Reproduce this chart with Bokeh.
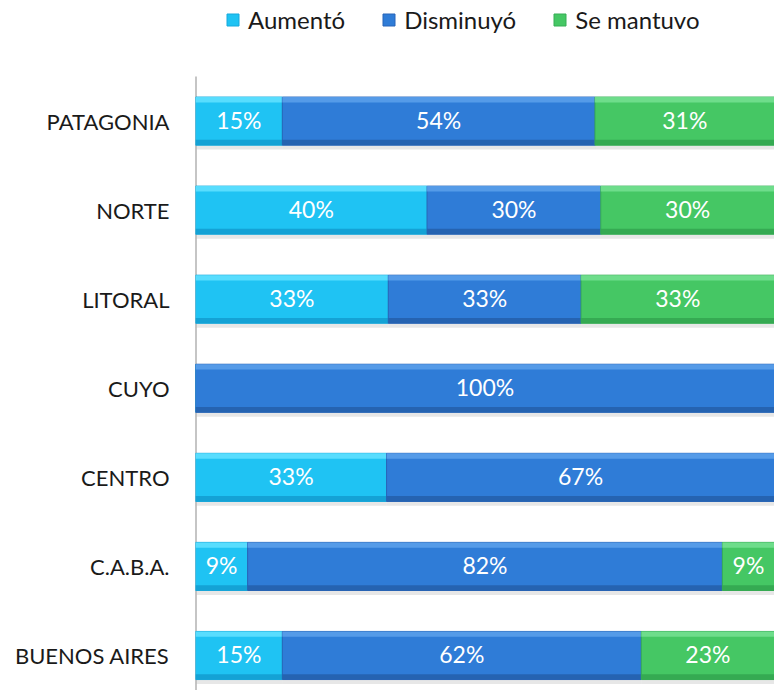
from bokeh.plotting import figure
from bokeh.models import Range1d, FixedTicker, Legend, LegendItem, ColumnDataSource
from bokeh.core.properties import value
from bokeh.embed import file_html
from bokeh.resources import INLINE

# ---- data ----
categories = ["BUENOS AIRES", "C.A.B.A.", "CENTRO", "CUYO", "LITORAL", "NORTE", "PATAGONIA"]
aumento = [15, 9, 33, 0, 33.3, 40, 15]
disminuyo = [62, 82, 67, 100, 33.3, 30, 54]
mantuvo = [23, 9, 0, 0, 33.4, 30, 31]
series_names = ["Aumentó", "Disminuyó", "Se mantuvo"]

# styles
main_cols = ["#1fc3f3", "#2f7cd7", "#45c764"]
top_cols = ["#5ee0ff", "#5a9fea", "#72df8f"]
bot_cols = ["#139fd2", "#2560ad", "#33a650"]
edge_cols = ["#17a9dc", "#2865b8", "#37ad55"]
FONT = "Lato"
BAR_H = 0.54

ys = list(range(len(categories)))
n = len(categories)

p = figure(width=774, height=690, output_backend="svg", toolbar_location=None,
           x_range=Range1d(0, 100), y_range=Range1d(-0.393, n - 0.5 + 0.854),
           min_border_left=195, min_border_right=0, min_border_top=0, min_border_bottom=0,
           x_axis_location=None)
p.outline_line_color = None
p.grid.visible = False
p.background_fill_color = "white"
p.border_fill_color = "white"

# axis line only across the category band
p.segment(x0=[0], y0=[-0.393], x1=[0], y1=[n - 0.5], line_color="#8c8c8c", line_width=2)

series = [aumento, disminuyo, mantuvo]
left = [0.0] * n
legend_items = []
for si, vals in enumerate(series):
    right = [l + v for l, v in zip(left, vals)]
    src = ColumnDataSource(dict(y=ys, left=left, right=right,
                                ytop=[y + BAR_H / 2 - 0.03 for y in ys],
                                ybot=[y - BAR_H / 2 + 0.03 for y in ys],
                                yshadow=[y - BAR_H / 2 - 0.025 for y in ys],
                                mid=[(l + r) / 2 for l, r in zip(left, right)],
                                lab=[f"{round(v)}%" if v > 0 else "" for v in vals]))
    p.hbar(y="yshadow", left="left", right="right", height=0.05, source=src,
           fill_color="#bbbbbb", fill_alpha=0.35, line_color=None)
    r = p.hbar(y="y", left="left", right="right", height=BAR_H, source=src,
               fill_color=main_cols[si], line_color=edge_cols[si], line_width=1)
    p.hbar(y="ytop", left="left", right="right", height=0.06, source=src,
           fill_color=top_cols[si], line_color=None, fill_alpha=0.9)
    p.hbar(y="ybot", left="left", right="right", height=0.06, source=src,
           fill_color=bot_cols[si], line_color=None, fill_alpha=0.9)
    p.text(x="mid", y="y", text="lab", source=src, text_color="white",
           text_font=value(FONT), text_font_size="23px", text_align="center",
           text_baseline="middle", y_offset=-1)
    legend_items.append(LegendItem(label=series_names[si], renderers=[r]))
    left = right

ax = p.yaxis[0]
ax.ticker = FixedTicker(ticks=ys)
ax.major_label_overrides = {i: c for i, c in enumerate(categories)}
ax.major_tick_line_color = None
ax.minor_tick_line_color = None
ax.major_label_standoff = 20
ax.major_label_text_font = FONT
ax.major_label_text_font_size = "22px"
ax.major_label_text_color = "#1a1a1a"
ax.axis_line_color = None

legend = Legend(items=legend_items, orientation="horizontal", location=(30, 656),
                label_text_font=FONT, label_text_font_size="24px", label_text_color="#1a1a1a",
                glyph_width=15, glyph_height=15, label_standoff=8, spacing=36,
                border_line_color=None, background_fill_alpha=0, padding=4, margin=0)
p.add_layout(legend, "center")

open("out.html", "w").write(file_html(p, INLINE))
